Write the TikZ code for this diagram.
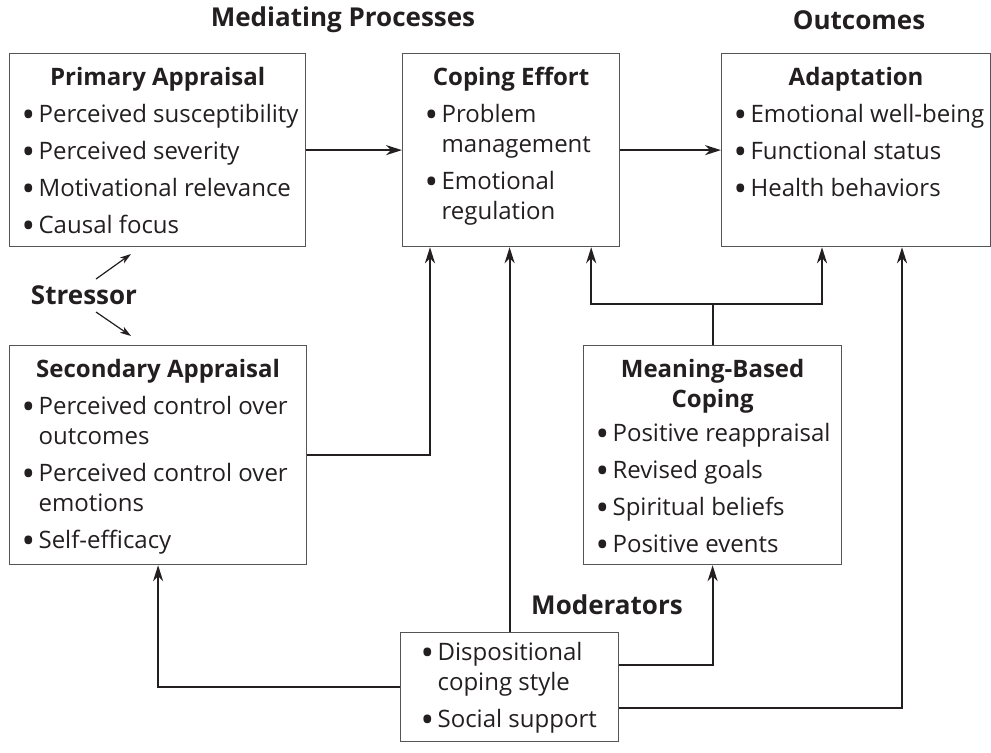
\documentclass[tikz,border=0pt]{standalone}
\usepackage{fontspec}
\usepackage{graphicx}
\setmainfont{Open Sans}
\usetikzlibrary{arrows.meta,calc}
\definecolor{ink}{RGB}{35,31,32}
\definecolor{rim}{RGB}{85,85,85}
\newcommand{\itm}[1]{\par\hangindent=8.5pt\hangafter=1\makebox[8.5pt][l]{\raisebox{-2.3pt}{\scalebox{1.5}{\textbullet}}}#1}
\newcommand{\ttl}[1]{\centerline{\rule{0pt}{16pt}\bfseries #1}}
\newcommand{\panel}[4][6pt]{\parbox[c][#3][t]{#2}{\raggedright\leftskip=#1\relax\parskip=3.5pt\relax #4}}
\tikzset{
  box/.style={draw=rim, line width=0.6pt, inner sep=0pt, anchor=north west, text=ink, font=\fontsize{12}{15}\selectfont},
  head/.style={text=ink, inner sep=0pt, font=\fontsize{13}{16}\selectfont\bfseries},
  link/.style={draw=ink, line width=1.1pt, -{Stealth[length=8pt,width=5pt,inset=2.5pt]}},
  slim/.style={draw=ink, line width=0.6pt, -{Stealth[length=5.5pt,width=3.5pt,inset=1.5pt]}}
}
\begin{document}
\begin{tikzpicture}[x=0.5pt,y=-0.5pt]
\useasboundingbox (0,0) rectangle (991,752);
% column heads
\node[head] (medproc) at (343,20) {Mediating Processes};
\node[head] (outc) at (859,20) {Outcomes};
% boxes
\node[box] (prim) at (9,53) {\panel{148pt}{96.5pt}{\ttl{Primary Appraisal}
  \itm{Perceived susceptibility}\itm{Perceived severity}\itm{Motivational relevance}\itm{Causal focus}}};
\node[box] (cope) at (402,53) {\panel[11pt]{108.5pt}{96.5pt}{\ttl{Coping Effort}
  \itm{Problem\newline management}\itm{Emotional\newline regulation}}};
\node[box] (adapt) at (721,53) {\panel{134.5pt}{96.5pt}{\ttl{Adaptation}
  \itm{Emotional well-being}\itm{Functional status}\itm{Health behaviors}}};
\node[box] (second) at (9,345) {\panel{148.5pt}{109.5pt}{\ttl{Secondary Appraisal}
  \itm{Perceived control over\newline outcomes}\itm{Perceived control over\newline emotions}\itm{Self-efficacy}}};
\node[box] (mean) at (583,345) {\panel{129pt}{109.5pt}{\ttl{Meaning-Based}\centerline{\bfseries Coping}\vspace{-1.5pt}
  \itm{Positive reappraisal}\itm{Revised goals}\itm{Spiritual beliefs}\itm{Positive events}}};
\node[box] (moder) at (400,632) {\panel[10pt]{109pt}{54.5pt}{
  \itm{\rule{0pt}{14pt}Dispositional\newline coping style}\itm{Social support}}};
\node[head] (stress) at (84,295) {Stressor};
\node[head] (modlab) at (607,605) {Moderators};
% stressor arrows
\draw[slim] ($(stress.center)+(12,-16)$) -- ($(stress.center)+(47,-41)$);
\draw[slim] ($(stress.center)+(12,17)$) -- ($(stress.center)+(47,41)$);
% connectors
\draw[link] (prim) -- (cope);
\draw[link] (cope) -- (adapt);
\draw[link] (second.east) -| ($(cope.south west)+(28,0)$);
\draw[link] (moder.north) -- (moder.north |- cope.south);
\draw[link] (moder.west) -| (second.south);
\draw[link] ($(moder.east)+(0,-22)$) -| (mean.south);
\draw[link] ($(moder.east)+(0,21)$) -| ($(adapt.south west)+(181,0)$);
\coordinate (jn) at ($(mean.north)+(0,-41)$);
\draw[draw=ink, line width=1.1pt] (mean.north) -- (jn);
\draw[link] (jn) -| ($(cope.south east)+(-29,0)$);
\draw[link] (jn) -| ($(adapt.south west)+(101,0)$);
\end{tikzpicture}
\end{document}
